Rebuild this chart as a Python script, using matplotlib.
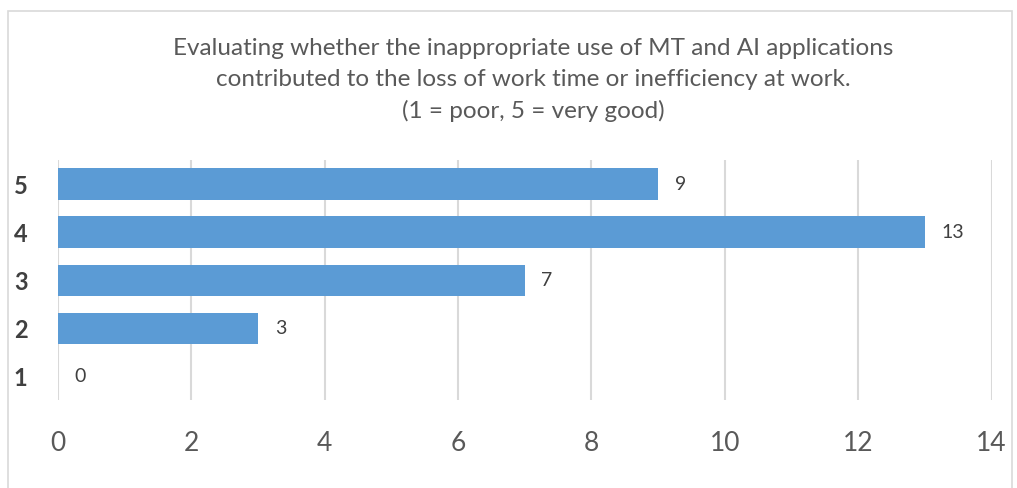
import matplotlib.pyplot as plt
from matplotlib.patches import Rectangle

# rating categories and number of answers
ratings = [1, 2, 3, 4, 5]
counts = [0, 3, 7, 13, 9]
x_ticks = [0, 2, 4, 6, 8, 10, 12, 14]
title = ("Evaluating whether the inappropriate use of MT and AI applications\n"
         "contributed to the loss of work time or inefficiency at work.\n"
         "(1 = poor, 5 = very good)")

plt.rcParams['font.family'] = ['Lato', 'DejaVu Sans']

fig = plt.figure(figsize=(10.17, 4.88), dpi=100)
fig.patches.append(Rectangle((0.008, -0.1), 0.987, 1.077, transform=fig.transFigure,
                             fill=False, edgecolor='#d9d9d9', linewidth=1.2))

ax = fig.add_axes([0.057, 0.180, 0.918, 0.492])
ax.barh(ratings, counts, height=0.65, color='#5b9bd5', zorder=3)

for y, v in zip(ratings, counts):
    ax.annotate(str(v), (v, y), xytext=(12, 0), textcoords='offset points',
                va='center', ha='left', fontsize=14, color='#404040')

ax.set_xlim(0, 14)
ax.set_ylim(0.5, 5.5)
ax.set_xticks(x_ticks)
ax.set_yticks(ratings)
ax.grid(axis='x', color='#d9d9d9', linewidth=1.5, zorder=0)
for s in ax.spines.values():
    s.set_visible(False)
ax.tick_params(axis='both', length=0)
ax.tick_params(axis='x', labelsize=19, labelcolor='#595959', pad=22)
ax.tick_params(axis='y', labelsize=17, labelcolor='#404040', pad=22)
for lbl in ax.get_yticklabels():
    lbl.set_fontweight('bold')

fig.text(0.524, 0.836, title, ha='center', va='center', fontsize=17.5,
         color='#595959', linespacing=1.58)

fig.savefig('out.png', dpi=100)
